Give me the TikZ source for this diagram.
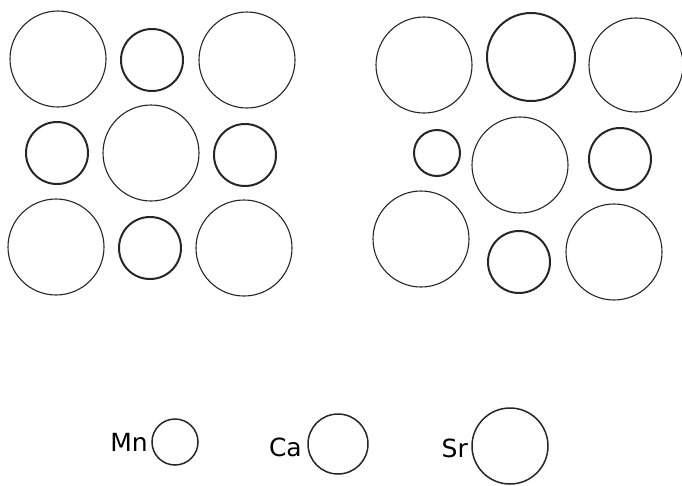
\documentclass[tikz,border=0pt]{standalone}
\usepackage{fontspec}
\setmainfont{DejaVu Sans}
\begin{document}
\begin{tikzpicture}[x=1pt,y=-1pt,
  ion/.style={circle,draw=black!85,inner sep=0pt,minimum size=#1},
  thin/.style={line width=1.1pt},
  thick/.style={line width=2pt},
  mid/.style={line width=1.5pt},
  lbl/.style={font=\fontsize{25}{25}\selectfont,inner sep=0pt,anchor=east}]
\useasboundingbox (0,0) rectangle (682,485);
% left grid
\node[ion=96pt,thin]  (l11) at (58,59) {};
\node[ion=62pt,thick] (l12) at (152,60) {};
\node[ion=96pt,thin]  (l13) at (247,60) {};
\node[ion=62pt,thick] (l21) at (57,153) {};
\node[ion=96pt,thin]  (l22) at (151,153) {};
\node[ion=62pt,thick] (l23) at (245,155) {};
\node[ion=96pt,thin]  (l31) at (56,247) {};
\node[ion=62pt,thick] (l32) at (150,248) {};
\node[ion=96pt,thin]  (l33) at (244,248) {};
% right grid
\node[ion=96pt,thin]  (r11) at (424,65) {};
\node[ion=88pt,thick] (r12) at (531,57) {};
\node[ion=94pt,thin]  (r13) at (636,65) {};
\node[ion=46pt,thick] (r21) at (437,153) {};
\node[ion=96pt,thin]  (r22) at (520,165) {};
\node[ion=62pt,thick] (r23) at (620,159) {};
\node[ion=96pt,thin]  (r31) at (421,239) {};
\node[ion=62pt,thick] (r32) at (519,262) {};
\node[ion=96pt,thin]  (r33) at (614,252) {};
% legend
\node[ion=46pt,mid] (mn) at (175,442) {};
\node[lbl] (mnl) at (148,442) {Mn};
\node[ion=60pt,mid] (ca) at (338,444) {};
\node[lbl] (cal) at (302,447) {Ca};
\node[ion=76pt,mid] (sr) at (510,446) {};
\node[lbl] (srl) at (468,448) {Sr};
\end{tikzpicture}
\end{document}
